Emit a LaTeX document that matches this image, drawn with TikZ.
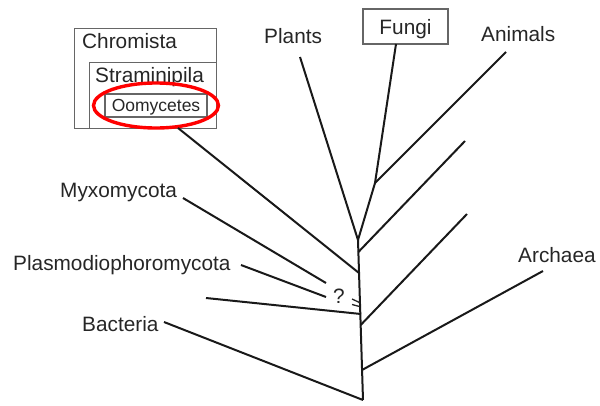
\documentclass[tikz,border=0pt]{standalone}
\usepackage{fontspec}
\setmainfont{Liberation Sans}
\usepackage{tikz}

\begin{document}
\begin{tikzpicture}[
    x=1pt, y=-1pt,
    branch/.style={line width=2pt, black!90},
    taxon/.style={inner sep=0pt, anchor=base west, text=black!85, font=\fontsize{20.8}{24}\selectfont},
    grpbox/.style={draw=black!60, line width=1.1pt, anchor=north west, inner sep=0pt},
    namebox/.style={draw=black!60, line width=1.1pt, text=black!85, text depth=0pt, inner sep=0pt}
]
\useasboundingbox (0,0) rectangle (600,405);

\node[grpbox, minimum width=142pt, minimum height=100pt] (chromistabox) at (74,28) {};
    \node[grpbox, minimum width=127pt, minimum height=66pt] (stramibox) at (89,62) {};
    \node[namebox, minimum width=102pt, minimum height=23pt, font=\fontsize{17.5}{20}\selectfont] (oomy) at (156,105.5) {Oomycetes};
    \node[namebox, minimum width=85pt, minimum height=35pt, font=\fontsize{20.8}{24}\selectfont] (fungi) at (405.5,26.5) {Fungi};

\node[taxon] (chromista) at (82,48) {Chromista};
    \node[taxon] (strami) at (95,82) {Straminipila};
    \node[taxon] (plants) at (264,43) {Plants};
    \node[taxon] (animals) at (481,41) {Animals};
    \node[taxon] (archaea) at (518,262) {Archaea};
    \node[taxon] (myxo) at (60,197) {Myxomycota};
    \node[taxon] (plasmo) at (13,270) {Plasmodiophoromycota};
    \node[taxon] (bacteria) at (82,331) {Bacteria};
    \node[taxon] (unsure) at (333,303) {?};

\draw[red, line width=3.4pt] (oomy.center) ellipse[x radius=62.5, y radius=22.5];

\coordinate (root) at (363,400);
    \coordinate (top) at (358,240);
    \coordinate (jfungi) at (375,183);
    \coordinate (jmid) at (358.4,252);
    \coordinate (jchrom) at (359,273);
    \coordinate (junk) at (361,314);
    \coordinate (jlow) at (360.7,325);
    \coordinate (jarch) at (362,370);

\coordinate (tplants) at (300,57);
    \coordinate (tfungi) at (396,44);
    \coordinate (tanimals) at (506,52);
    \coordinate (tmid) at (465,141);
    \coordinate (tlow) at (467,214);
    \coordinate (tarch) at (543,271);
    \coordinate (tchrom) at (178,128);
    \coordinate (tmyxo) at (183,198);
    \coordinate (hmyxo) at (326,283);
    \coordinate (tplasmo) at (241,265);
    \coordinate (hplasmo) at (326,297);
    \coordinate (tunk) at (206,298);
    \coordinate (tbact) at (164,322);

\draw[branch] (root) -- (top);
    \draw[branch] (top) -- (tplants);
    \draw[branch] (top) -- (jfungi) -- (tfungi);
    \draw[branch] (jfungi) -- (tanimals);
    \draw[branch] (jmid) -- (tmid);
    \draw[branch] (jlow) -- (tlow);
    \draw[branch] (jarch) -- (tarch);
    \draw[branch] (jchrom) -- (tchrom);
    \draw[branch] (hmyxo) -- (tmyxo);
    \draw[branch] (hplasmo) -- (tplasmo);
    \draw[branch] (junk) -- (tunk);
    \draw[branch] (root) -- (tbact);

\draw[line width=1.3pt, black!85] (352,299) -- (359.5,302.5);
    \draw[line width=1.3pt, black!85] (352,304.5) -- (359.5,306.5);
\end{tikzpicture}
\end{document}
